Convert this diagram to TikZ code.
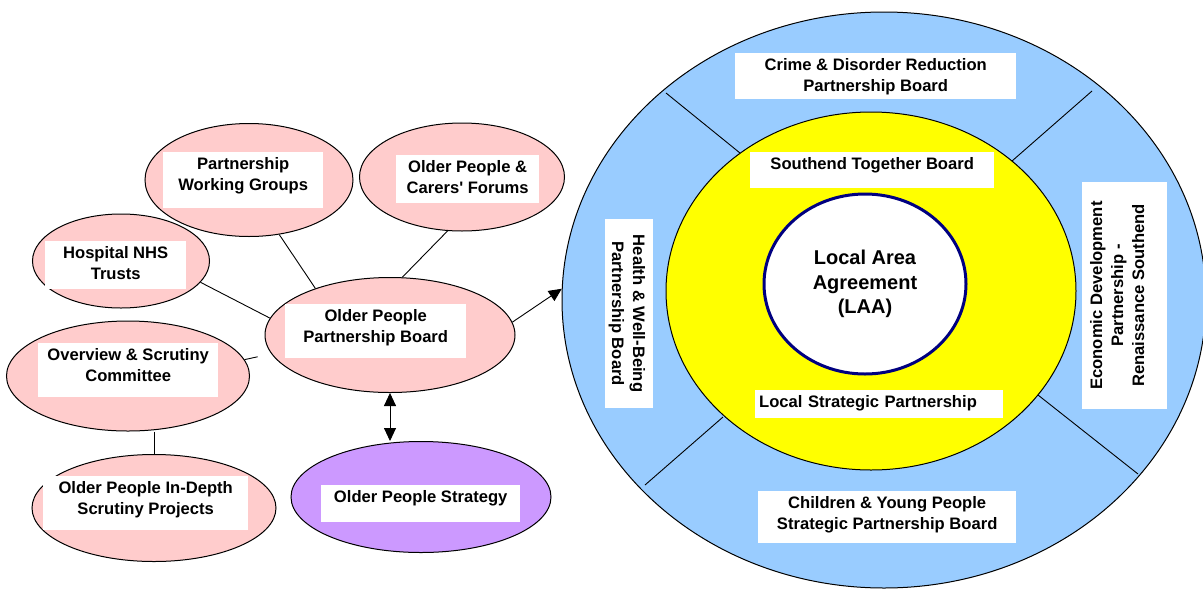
\documentclass[tikz,border=0pt]{standalone}
\usepackage{fontspec}
\setmainfont{Liberation Sans}[Ligatures=TeXOff]
\usepackage{xcolor}
\usetikzlibrary{shapes.geometric,arrows.meta}
\definecolor{pinkfill}{HTML}{FFCCCC}
\definecolor{lilacfill}{HTML}{CC99FF}
\definecolor{skyfill}{HTML}{99CCFF}
\definecolor{yellowfill}{HTML}{FFFF00}
\definecolor{navyline}{HTML}{000080}
\tikzset{
    pink-ellipse/.style = {draw=black, fill=pinkfill, line width=1pt, ellipse, inner sep=0pt},
    ring-ellipse/.style = {draw=black, line width=1pt, ellipse, inner sep=0pt},
    label-box/.style = {fill=white, inner sep=0pt, align=center, text height=17.5pt, font=\bfseries\fontsize{16.6}{21}\selectfont},
    link/.style = {draw=black, line width=0.9pt},
    big-arrow/.style = {link, -{Triangle[length=13pt,width=12pt]}},
}

\begin{document}
\begin{tikzpicture}[x=1pt, y=-1pt]
\useasboundingbox (0,0) rectangle (1203,590);

% partnership bodies on the left
\node [pink-ellipse, minimum width=208, minimum height=113] (pwg) at (249,180) {};
\node [pink-ellipse, minimum width=205, minimum height=108] (opcf) at (462,177) {};
\node [pink-ellipse, minimum width=177, minimum height=94] (hosp) at (121,261) {};
\node [pink-ellipse, minimum width=243, minimum height=110] (ovs) at (128,376) {};
\node [pink-ellipse, minimum width=244, minimum height=107] (idp) at (154,508) {};
\node [pink-ellipse, minimum width=250, minimum height=115] (opb) at (390,335) {};
\node [pink-ellipse, fill=lilacfill, minimum width=260, minimum height=111] (ops) at (421,497) {};

% two-line boxes: the baseline is the last line, hence 38.5pt
\node [label-box, anchor=north west, minimum width=160, text height=38.5pt, text depth=17.5pt] (pwg-text) at (163,152) {Partnership\\Working Groups};
\node [label-box, anchor=north west, minimum width=143, text height=38.5pt, text depth=9.5pt] (opcf-text) at (396,155) {Older People \&\\Carers' Forums};
\node [label-box, anchor=north west, minimum width=141, text height=38.5pt, text depth=9.5pt] (hosp-text) at (45,241) {Hospital NHS\\Trusts};
\node [label-box, anchor=north west, minimum width=180, text height=38.5pt, text depth=15.5pt] (ovs-text) at (38,343) {Overview \& Scrutiny\\Committee};
\node [label-box, anchor=north west, minimum width=205, text height=38.5pt, text depth=15.5pt] (idp-text) at (43,476) {Older People In-Depth\\Scrutiny Projects};
\node [label-box, anchor=north west, minimum width=181, text height=38.5pt, text depth=15.5pt] (opb-text) at (285,304) {Older People\\Partnership Board};
\node [label-box, anchor=north west, minimum width=199, text depth=19.5pt] (ops-text) at (321,485) {Older People Strategy};

\draw [link] (pwg.-61) -- (opb.148);
\draw [link] (opcf.-105) -- (opb.78);
\draw [link] (hosp.-15) -- (opb.172);
\draw [link, shorten >=14pt] (ovs.8) -- (opb.-171);
\draw [link] (ovs.south -| idp.north) -- (idp.north);
\draw [link, {Triangle[length=13pt,width=12pt]}-{Triangle[length=13pt,width=12pt]}] (opb.south) -- (opb.south |- ops.north);

% local strategic partnership rings
\node [ring-ellipse, fill=skyfill, minimum width=644, minimum height=576] (ring) at (884,300) {};
\draw [link] (666,93) -- (740,153);
\draw [link] (1092,91) -- (1012,161);
\draw [link] (645,485) -- (723,417);
\draw [link] (1038,395) -- (1138,474);
\node [ring-ellipse, fill=yellowfill, minimum width=410, minimum height=358] (lsp) at (871,291) {};
\node [ring-ellipse, draw=navyline, line width=3pt, fill=white, minimum width=202, minimum height=180,
       align=center, font=\bfseries\fontsize{20}{24.5}\selectfont] (laa) at (865,284) {Local Area\\Agreement\\(LAA)};

\draw [big-arrow] (opb.6) -- (ring.178);

\node [label-box, anchor=north west, minimum width=281, text height=38.5pt, text depth=7.5pt] (crime) at (735,53) {Crime \& Disorder Reduction\\Partnership Board};
\node [label-box, anchor=north west, minimum width=244, text depth=18.5pt] (southend) at (750,152) {Southend Together Board};
\node [label-box, anchor=north west, text width=240pt, inner xsep=4pt, align=left, text depth=10.5pt] (lsp-text) at (755,390) {Local Strategic Partnership};
\node [label-box, anchor=north west, minimum width=258, text height=38.5pt, text depth=13.5pt] (cyp) at (758,491) {Children \& Young People\\Strategic Partnership Board};
\node [label-box, rotate=-90, minimum width=189, text height=41pt, text depth=7pt] (hwb) at (629,313.5) {Health \& Well-Being\\Partnership Board};
\node [label-box, rotate=90, minimum width=227, text height=62pt, text depth=23pt] (edp) at (1124.5,295.5) {Economic Development\\Partnership -\\Renaissance Southend};
\end{tikzpicture}
\end{document}
